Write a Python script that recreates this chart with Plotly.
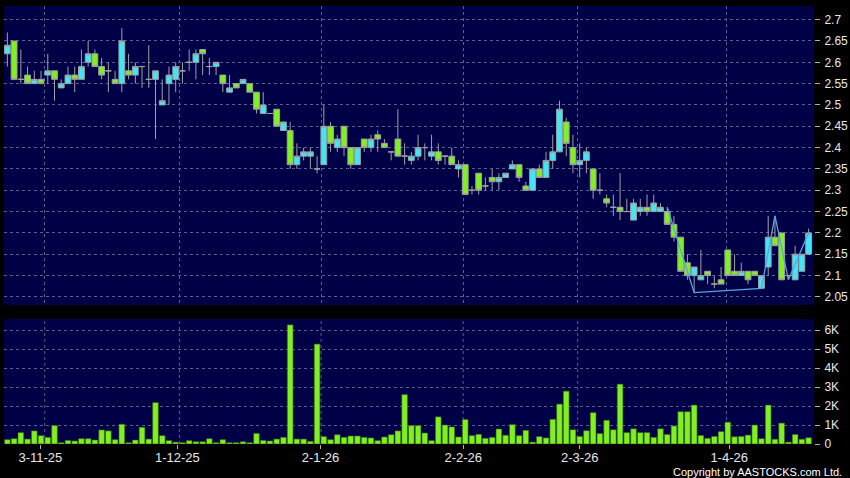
import plotly.graph_objects as go
from plotly.subplots import make_subplots

# ---------------- data (120 trading days) ----------------
OPEN = [2.62, 2.65, 2.56, 2.57, 2.55, 2.56, 2.57, 2.58, 2.54, 2.55,
        2.57, 2.56, 2.60, 2.62, 2.59, 2.58, 2.56, 2.55, 2.58, 2.57,
        2.59, 2.56, 2.56, 2.50, 2.55, 2.56, 2.58, 2.60, 2.60, 2.63,
        2.59, 2.59, 2.57, 2.53, 2.55, 2.55, 2.55, 2.53, 2.48, 2.48,
        2.49, 2.44, 2.44, 2.36, 2.38, 2.38, 2.35, 2.36, 2.45, 2.40,
        2.45, 2.40, 2.36, 2.42, 2.40, 2.43, 2.41, 2.39, 2.42, 2.38,
        2.37, 2.38, 2.40, 2.38, 2.39, 2.38, 2.38, 2.35, 2.36, 2.30,
        2.34, 2.31, 2.33, 2.32, 2.33, 2.35, 2.36, 2.31, 2.30, 2.35,
        2.33, 2.37, 2.39, 2.46, 2.40, 2.36, 2.37, 2.35, 2.30, 2.28,
        2.26, 2.26, 2.25, 2.23, 2.25, 2.26, 2.25, 2.25, 2.25, 2.22,
        2.19, 2.13, 2.10, 2.09, 2.11, 2.08, 2.09, 2.16, 2.11, 2.10,
        2.11, 2.11, 2.07, 2.12, 2.19, 2.20, 2.10, 2.09, 2.11, 2.15]
HIGH = [2.67, 2.65, 2.63, 2.59, 2.58, 2.58, 2.62, 2.58, 2.56, 2.59,
        2.59, 2.63, 2.65, 2.63, 2.61, 2.60, 2.58, 2.68, 2.62, 2.60,
        2.59, 2.64, 2.58, 2.56, 2.59, 2.60, 2.60, 2.63, 2.63, 2.63,
        2.61, 2.60, 2.57, 2.57, 2.55, 2.56, 2.55, 2.53, 2.53, 2.48,
        2.49, 2.46, 2.46, 2.41, 2.40, 2.40, 2.38, 2.50, 2.46, 2.43,
        2.45, 2.40, 2.40, 2.42, 2.43, 2.44, 2.42, 2.39, 2.49, 2.41,
        2.39, 2.43, 2.41, 2.43, 2.41, 2.38, 2.40, 2.37, 2.36, 2.31,
        2.34, 2.33, 2.35, 2.34, 2.34, 2.37, 2.36, 2.32, 2.35, 2.36,
        2.39, 2.43, 2.51, 2.47, 2.43, 2.41, 2.40, 2.35, 2.34, 2.29,
        2.29, 2.34, 2.28, 2.28, 2.28, 2.29, 2.29, 2.27, 2.26, 2.24,
        2.19, 2.15, 2.12, 2.16, 2.11, 2.10, 2.12, 2.16, 2.15, 2.13,
        2.11, 2.11, 2.10, 2.24, 2.24, 2.20, 2.10, 2.17, 2.15, 2.21]
LOW = [2.59, 2.56, 2.55, 2.55, 2.55, 2.55, 2.55, 2.51, 2.54, 2.55,
       2.53, 2.56, 2.59, 2.59, 2.56, 2.53, 2.55, 2.53, 2.56, 2.55,
       2.54, 2.54, 2.42, 2.50, 2.50, 2.53, 2.55, 2.58, 2.56, 2.57,
       2.57, 2.57, 2.53, 2.53, 2.54, 2.55, 2.53, 2.48, 2.48, 2.48,
       2.45, 2.44, 2.35, 2.35, 2.37, 2.35, 2.34, 2.36, 2.39, 2.39,
       2.38, 2.35, 2.36, 2.39, 2.39, 2.39, 2.40, 2.37, 2.38, 2.36,
       2.36, 2.37, 2.37, 2.37, 2.36, 2.36, 2.36, 2.33, 2.29, 2.29,
       2.29, 2.30, 2.30, 2.30, 2.33, 2.35, 2.32, 2.30, 2.30, 2.33,
       2.33, 2.35, 2.39, 2.38, 2.34, 2.33, 2.34, 2.28, 2.29, 2.26,
       2.24, 2.23, 2.25, 2.23, 2.24, 2.24, 2.25, 2.25, 2.22, 2.18,
       2.11, 2.09, 2.06, 2.09, 2.08, 2.07, 2.08, 2.10, 2.10, 2.10,
       2.08, 2.10, 2.07, 2.10, 2.17, 2.09, 2.09, 2.09, 2.11, 2.15]
CLOSE = [2.64, 2.56, 2.56, 2.55, 2.56, 2.55, 2.58, 2.56, 2.55, 2.57,
         2.56, 2.59, 2.62, 2.59, 2.57, 2.58, 2.55, 2.65, 2.57, 2.59,
         2.59, 2.56, 2.58, 2.51, 2.57, 2.59, 2.58, 2.60, 2.62, 2.62,
         2.59, 2.60, 2.55, 2.54, 2.54, 2.56, 2.53, 2.49, 2.50, 2.48,
         2.45, 2.46, 2.36, 2.38, 2.39, 2.39, 2.35, 2.45, 2.41, 2.42,
         2.40, 2.36, 2.40, 2.40, 2.42, 2.42, 2.40, 2.39, 2.38, 2.38,
         2.38, 2.40, 2.40, 2.39, 2.37, 2.38, 2.36, 2.36, 2.29, 2.30,
         2.30, 2.31, 2.32, 2.33, 2.34, 2.36, 2.33, 2.30, 2.35, 2.33,
         2.37, 2.39, 2.49, 2.41, 2.36, 2.37, 2.39, 2.30, 2.30, 2.27,
         2.26, 2.25, 2.25, 2.27, 2.26, 2.25, 2.27, 2.26, 2.22, 2.19,
         2.11, 2.10, 2.12, 2.10, 2.10, 2.08, 2.08, 2.10, 2.10, 2.11,
         2.09, 2.10, 2.10, 2.19, 2.17, 2.09, 2.10, 2.15, 2.15, 2.20]
VOLUME = [230, 280, 600, 260, 690, 440, 350, 970, 70, 190,
          160, 280, 280, 210, 740, 690, 230, 1040, 70, 210,
          880, 260, 2180, 440, 180, 100, 70, 180, 120, 120,
          280, 70, 230, 70, 70, 120, 70, 560, 190, 160,
          260, 350, 6270, 260, 260, 140, 5260, 390, 230, 490,
          350, 420, 420, 350, 320, 180, 370, 490, 690, 2600,
          970, 970, 580, 180, 1430, 1000, 900, 370, 1290, 440,
          510, 300, 350, 790, 460, 1020, 440, 720, 100, 390,
          320, 1300, 2100, 2780, 750, 400, 700, 1650, 550, 1250,
          750, 3150, 600, 800, 600, 600, 350, 800, 500, 950,
          1700, 1700, 2050, 450, 300, 400, 650, 1150, 380, 400,
          470, 1000, 280, 2050, 250, 1100, 100, 500, 250, 330]
DAY = list(range(len(CLOSE)))

# zig-zag overlay (day index, price)
ZIG_DAY = [98, 102, 112, 114, 116, 119]
ZIG_PRICE = [2.26, 2.06, 2.07, 2.24, 2.09, 2.20]

# x-axis labels (positions in trading-day units)
DATE_LABELS = ["3-11-25", "1-12-25", "2-1-26", "2-2-26", "2-3-26", "1-4-26"]
LABEL_POS = [4.9, 25.25, 46.5, 67.7, 85.0, 107.2]
GRID_POS = [5.55, 25.55, 46.6, 67.7, 84.7, 106.8]

PRICE_TICKS = [2.05, 2.1, 2.15, 2.2, 2.25, 2.3, 2.35, 2.4, 2.45, 2.5,
               2.55, 2.6, 2.65, 2.7]
PRICE_TEXT = ["2.05", "2.1", "2.15", "2.2", "2.25", "2.3", "2.35", "2.4",
              "2.45", "2.5", "2.55", "2.6", "2.65", "2.7"]
VOL_TICKS = [0, 1000, 2000, 3000, 4000, 5000, 6000]
VOL_TEXT = ["0", "1K", "2K", "3K", "4K", "5K", "6K"]

# ---------------- style ----------------
BG = "#000000"
PLOT_BG = "#000046"
GRID = "#5c5c8e"
CYAN = "#3fe6f6"
GREEN = "#80f020"
WICK = "#a0a0a0"
ZIG = "#56a6e2"
FONT = "Liberation Sans"
TXT = "#e8e8e8"

fig = make_subplots(rows=2, cols=1, shared_xaxes=False,
                    vertical_spacing=0.0)

fig.add_trace(go.Scatter(x=ZIG_DAY, y=ZIG_PRICE, mode="lines",
                         line=dict(color=ZIG, width=1.3),
                         hoverinfo="skip", showlegend=False), row=1, col=1)

fig.add_trace(go.Candlestick(
    x=DAY, open=OPEN, high=HIGH, low=LOW, close=CLOSE,
    increasing=dict(fillcolor=CYAN, line=dict(color=WICK, width=1)),
    decreasing=dict(fillcolor=GREEN, line=dict(color=WICK, width=1)),
    whiskerwidth=0, showlegend=False), row=1, col=1)

fig.add_trace(go.Bar(x=DAY, y=VOLUME,
                     marker=dict(color=GREEN, line=dict(color="#3a6a10", width=0.6)),
                     showlegend=False), row=2, col=1)

XR = [-0.5, 119.8]
fig.update_layout(
    width=850, height=478,
    margin=dict(l=4, r=36, t=6, b=34, autoexpand=False),
    paper_bgcolor=BG, plot_bgcolor=PLOT_BG,
    boxgap=0.14, boxgroupgap=0.0, bargap=0.16,
    font=dict(family=FONT, size=12, color=TXT),
    showlegend=False,
    xaxis=dict(domain=[0, 1], range=XR, rangeslider=dict(visible=False),
               tickmode="array", tickvals=GRID_POS, showticklabels=False,
               ticks="", showgrid=True, gridcolor=GRID, griddash="3px,3px",
               gridwidth=1, zeroline=False, showline=False, anchor="y"),
    yaxis=dict(domain=[0.3174, 1], range=[2.031, 2.732], side="right",
               tickmode="array", tickvals=PRICE_TICKS, ticktext=PRICE_TEXT,
               ticks="outside", ticklen=5, tickcolor="#b0b0b0",
               ticklabelstandoff=2,
               showgrid=True, gridcolor=GRID, griddash="3px,3px",
               zeroline=False, showline=False, anchor="x",
               tickfont=dict(family=FONT, size=12, color=TXT)),
    xaxis2=dict(domain=[0, 1], range=XR, tickmode="array",
                tickvals=LABEL_POS, ticktext=DATE_LABELS,
                ticks="outside", ticklen=4, tickcolor="#b0b0b0",
                ticklabelstandoff=-3,
                showgrid=False, zeroline=False, showline=False, anchor="y2",
                tickfont=dict(family=FONT, size=13, color=TXT)),
    yaxis2=dict(domain=[0, 0.2854], range=[0, 6580], side="right",
                tickmode="array", tickvals=VOL_TICKS, ticktext=VOL_TEXT,
                ticks="outside", ticklen=5, tickcolor="#b0b0b0",
                ticklabelstandoff=2,
                showgrid=True, gridcolor=GRID, griddash="3px,3px",
                zeroline=False, showline=False, anchor="x2",
                tickfont=dict(family=FONT, size=12, color=TXT)),
)

# vertical grid lines in the volume panel (same positions as price panel)
for gx in GRID_POS:
    fig.add_shape(type="line", xref="x2", yref="y2 domain", x0=gx, x1=gx,
                  y0=0, y1=1, layer="below",
                  line=dict(color=GRID, width=1, dash="3px,3px"))

fig.add_annotation(text="Copyright by AASTOCKS.com Ltd.", xref="paper",
                   yref="paper", x=1.037, y=-0.0632, xanchor="right",
                   yanchor="middle", showarrow=False,
                   font=dict(family=FONT, size=11, color="#ffffff"))

fig.write_html("out.html",
               config={"displayModeBar": False},
               post_script="document.body.style.margin='0';"
                           "document.body.style.background='#000';")
